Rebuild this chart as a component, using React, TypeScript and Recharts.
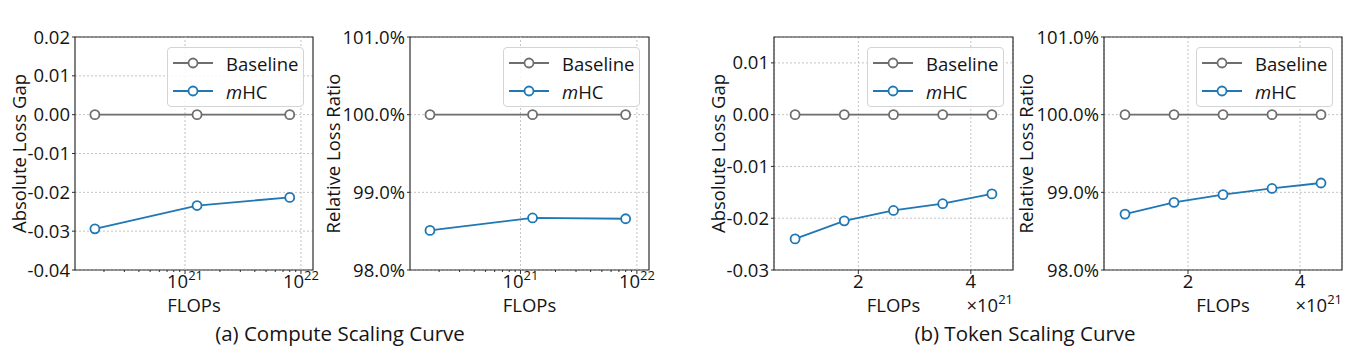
import React from "react";
import {
  LineChart,
  Line,
  XAxis,
  YAxis,
  CartesianGrid,
  ReferenceLine,
  ReferenceArea,
  Legend,
  Label,
} from "recharts";

// compute scaling (log FLOPs)
const computeFlops = [1.67e20, 1.27e21, 8.0e21];
const computeGapBaseline = [0, 0, 0];
const computeGapMhc = [-0.0294, -0.0234, -0.0213];
const computeRatioBaseline = [100, 100, 100];
const computeRatioMhc = [98.51, 98.67, 98.66];

// token scaling (FLOPs in units of 1e21)
const tokenFlops = [0.875, 1.75, 2.625, 3.5, 4.375];
const tokenExponent = 21;
const tokenGapBaseline = [0, 0, 0, 0, 0];
const tokenGapMhc = [-0.024, -0.0205, -0.0185, -0.0172, -0.0153];
const tokenRatioBaseline = [100, 100, 100, 100, 100];
const tokenRatioMhc = [98.72, 98.87, 98.97, 99.05, 99.12];

// ticks
const logMajorTicks = [1e21, 1e22];
const logMinorTicks = [
  2e20, 3e20, 4e20, 5e20, 6e20, 7e20, 8e20, 9e20,
  2e21, 3e21, 4e21, 5e21, 6e21, 7e21, 8e21, 9e21,
];
const linearTicks = [2, 4];
const gapTicksCompute = [-0.04, -0.03, -0.02, -0.01, 0, 0.01, 0.02];
const gapTicksToken = [-0.03, -0.02, -0.01, 0, 0.01];
const ratioTicks = [98, 99, 100, 101];

const subtitles = ["(a) Compute Scaling Curve", "(b) Token Scaling Curve"];

const FONT = '"Open Sans", "DejaVu Sans", sans-serif';
const FS = 18.5;
const SUP = 13;
const TEXT = "#141414";
const GRAY = "#6e6e6e";
const BLUE = "#1f77b4";
const FRAME = "#2e2e2e";
const GRID = "#c4c4c4";
const PLOT_TOP = 37;
const CHART_H = 360;
const X_AXIS_H = 90;
const RIGHT_PAD = 13;

const fmtGap = (v: number) => v.toFixed(2);
const fmtRatio = (v: number) => `${v.toFixed(1)}%`;

const LogTick = ({ x, y, payload }: any) => {
  const major = logMajorTicks.includes(payload.value);
  return (
    <g>
      <line x1={x} x2={x} y1={y} y2={y + (major ? 4 : 2)} stroke={FRAME} strokeWidth={1} />
      {major && (
        <text x={x} y={y + 18} textAnchor="middle" fill={TEXT} fontSize={FS} fontFamily={FONT}>
          10
          <tspan dy={-8} fontSize={SUP}>
            {Math.round(Math.log10(payload.value))}
          </tspan>
        </text>
      )}
    </g>
  );
};

const LegendBox = ({ payload }: any) => (
  <div
    style={{
      width: 137,
      height: 60,
      boxSizing: "border-box",
      border: "1px solid #d4d4d4",
      borderRadius: 4,
      background: "rgba(255,255,255,0.85)",
      position: "relative",
      fontFamily: FONT,
      fontSize: FS,
      color: TEXT,
    }}
  >
    {(payload || []).map((entry: any, i: number) => (
      <div
        key={entry.value}
        style={{
          position: "absolute",
          left: 0,
          top: 3 + i * 28,
          height: 24,
          display: "flex",
          alignItems: "center",
          whiteSpace: "nowrap",
        }}
      >
        <svg width={50} height={24}>
          <line x1={5} x2={45} y1={12} y2={12} stroke={entry.color} strokeWidth={1.8} />
          <circle cx={25} cy={12} r={4.5} fill="#fff" stroke={entry.color} strokeWidth={1.8} />
        </svg>
        <span style={{ marginLeft: 8 }}>
          {entry.value === "mHC" ? (
            <>
              <i>m</i>HC
            </>
          ) : (
            entry.value
          )}
        </span>
      </div>
    ))}
  </div>
);

type PanelProps = {
  plotLeft: number;
  plotRight: number;
  yAxisWidth: number;
  yLabelOffset: number;
  yLabel: string;
  xs: number[];
  baseline: number[];
  mhc: number[];
  log: boolean;
  xDomain: [number, number];
  yDomain: [number, number];
  yTicks: number[];
  yFormat: (v: number) => string;
};

const Panel = (p: PanelProps) => {
  const data = p.xs.map((x, i) => ({ x, baseline: p.baseline[i], mhc: p.mhc[i] }));
  const plotW = p.plotRight - p.plotLeft;
  const width = plotW + p.yAxisWidth + RIGHT_PAD;
  const legendLeft = p.yAxisWidth + plotW - 9 - 137;

  return (
    <div style={{ position: "absolute", left: p.plotLeft - p.yAxisWidth, top: 0 }}>
      <LineChart
        width={width}
        height={CHART_H}
        data={data}
        margin={{ top: PLOT_TOP, right: RIGHT_PAD, left: 0, bottom: 0 }}
      >
        <CartesianGrid vertical={!p.log} strokeDasharray="2 2" stroke={GRID} />
        {p.log &&
          logMajorTicks.map((t) => (
            <ReferenceLine key={t} x={t} stroke={GRID} strokeDasharray="2 2" />
          ))}
        <XAxis
          dataKey="x"
          type="number"
          scale={p.log ? "log" : "linear"}
          domain={p.xDomain}
          allowDataOverflow
          ticks={p.log ? [...logMinorTicks, ...logMajorTicks] : linearTicks}
          interval={0}
          height={X_AXIS_H}
          axisLine={false}
          tickLine={p.log ? false : { stroke: FRAME }}
          tickSize={p.log ? 0 : 4}
          tickMargin={p.log ? 0 : 1}
          tick={
            p.log
              ? (props: any) => <LogTick {...props} />
              : { fontSize: FS, fill: TEXT, fontFamily: FONT }
          }
        >
          <Label
            content={({ viewBox }: any) => (
              <text
                x={viewBox.x + viewBox.width / 2}
                y={viewBox.y + 42}
                textAnchor="middle"
                fill={TEXT}
                fontSize={FS}
                fontFamily={FONT}
              >
                FLOPs
              </text>
            )}
          />
          {!p.log && (
            <Label
              content={({ viewBox }: any) => (
                <text
                  x={viewBox.x + viewBox.width}
                  y={viewBox.y + 42}
                  textAnchor="end"
                  fill={TEXT}
                  fontSize={FS}
                  fontFamily={FONT}
                >
                  ×10
                  <tspan dy={-8} fontSize={SUP}>
                    {tokenExponent}
                  </tspan>
                </text>
              )}
            />
          )}
        </XAxis>
        <YAxis
          type="number"
          domain={p.yDomain}
          ticks={p.yTicks}
          interval={0}
          width={p.yAxisWidth}
          axisLine={false}
          tickLine={{ stroke: FRAME }}
          tickSize={3}
          tickMargin={2}
          tickFormatter={p.yFormat}
          tick={{ fontSize: FS, fill: TEXT, fontFamily: FONT }}
        >
          <Label
            content={({ viewBox }: any) => {
              const cx = viewBox.x + p.yLabelOffset;
              const cy = viewBox.y + viewBox.height / 2;
              return (
                <text
                  x={cx}
                  y={cy}
                  transform={`rotate(-90 ${cx} ${cy})`}
                  textAnchor="middle"
                  dominantBaseline="central"
                  fill={TEXT}
                  fontSize={FS}
                  fontFamily={FONT}
                >
                  {p.yLabel}
                </text>
              );
            }}
          />
        </YAxis>
        <Legend
          layout="vertical"
          align="center"
          verticalAlign="middle"
          content={(props: any) => <LegendBox {...props} />}
          wrapperStyle={{ left: legendLeft, top: 47, width: 137, height: 60 }}
        />
        <Line
          dataKey="baseline"
          name="Baseline"
          stroke={GRAY}
          strokeWidth={1.8}
          dot={{ r: 4.5, fill: "#fff", stroke: GRAY, strokeWidth: 1.8 }}
          activeDot={false}
          isAnimationActive={false}
        />
        <Line
          dataKey="mhc"
          name="mHC"
          stroke={BLUE}
          strokeWidth={1.8}
          dot={{ r: 4.5, fill: "#fff", stroke: BLUE, strokeWidth: 1.8 }}
          activeDot={false}
          isAnimationActive={false}
        />
        <ReferenceArea
          x1={p.xDomain[0]}
          x2={p.xDomain[1]}
          y1={p.yDomain[0]}
          y2={p.yDomain[1]}
          fill="none"
          fillOpacity={0}
          stroke={FRAME}
          strokeWidth={1.2}
          isAnimationActive={false}
        />
      </LineChart>
    </div>
  );
};

const App = () => (
  <div
    style={{
      position: "absolute",
      left: 0,
      top: 0,
      width: 1355,
      height: 360,
      background: "#fff",
      fontFamily: FONT,
    }}
  >
    <Panel
      plotLeft={75}
      plotRight={313}
      yAxisWidth={75}
      yLabelOffset={18}
      yLabel="Absolute Loss Gap"
      xs={computeFlops}
      baseline={computeGapBaseline}
      mhc={computeGapMhc}
      log
      xDomain={[1.125e20, 1.27e22]}
      yDomain={[-0.04, 0.02]}
      yTicks={gapTicksCompute}
      yFormat={fmtGap}
    />
    <Panel
      plotLeft={410}
      plotRight={649}
      yAxisWidth={90}
      yLabelOffset={12}
      yLabel="Relative Loss Ratio"
      xs={computeFlops}
      baseline={computeRatioBaseline}
      mhc={computeRatioMhc}
      log
      xDomain={[1.125e20, 1.27e22]}
      yDomain={[98, 101]}
      yTicks={ratioTicks}
      yFormat={fmtRatio}
    />
    <Panel
      plotLeft={774}
      plotRight={1013}
      yAxisWidth={75}
      yLabelOffset={18}
      yLabel="Absolute Loss Gap"
      xs={tokenFlops}
      baseline={tokenGapBaseline}
      mhc={tokenGapMhc}
      log={false}
      xDomain={[0.5, 4.75]}
      yDomain={[-0.03, 0.015]}
      yTicks={gapTicksToken}
      yFormat={fmtGap}
    />
    <Panel
      plotLeft={1104}
      plotRight={1342}
      yAxisWidth={90}
      yLabelOffset={11}
      yLabel="Relative Loss Ratio"
      xs={tokenFlops}
      baseline={tokenRatioBaseline}
      mhc={tokenRatioMhc}
      log={false}
      xDomain={[0.5, 4.75]}
      yDomain={[98, 101]}
      yTicks={ratioTicks}
      yFormat={fmtRatio}
    />
    {subtitles.map((s, i) => (
      <div
        key={s}
        style={{
          position: "absolute",
          left: (i === 0 ? 340 : 1025) - 200,
          width: 400,
          top: 320,
          textAlign: "center",
          fontSize: 20.5,
          lineHeight: "26px",
          color: TEXT,
        }}
      >
        {s}
      </div>
    ))}
  </div>
);

export default App;
